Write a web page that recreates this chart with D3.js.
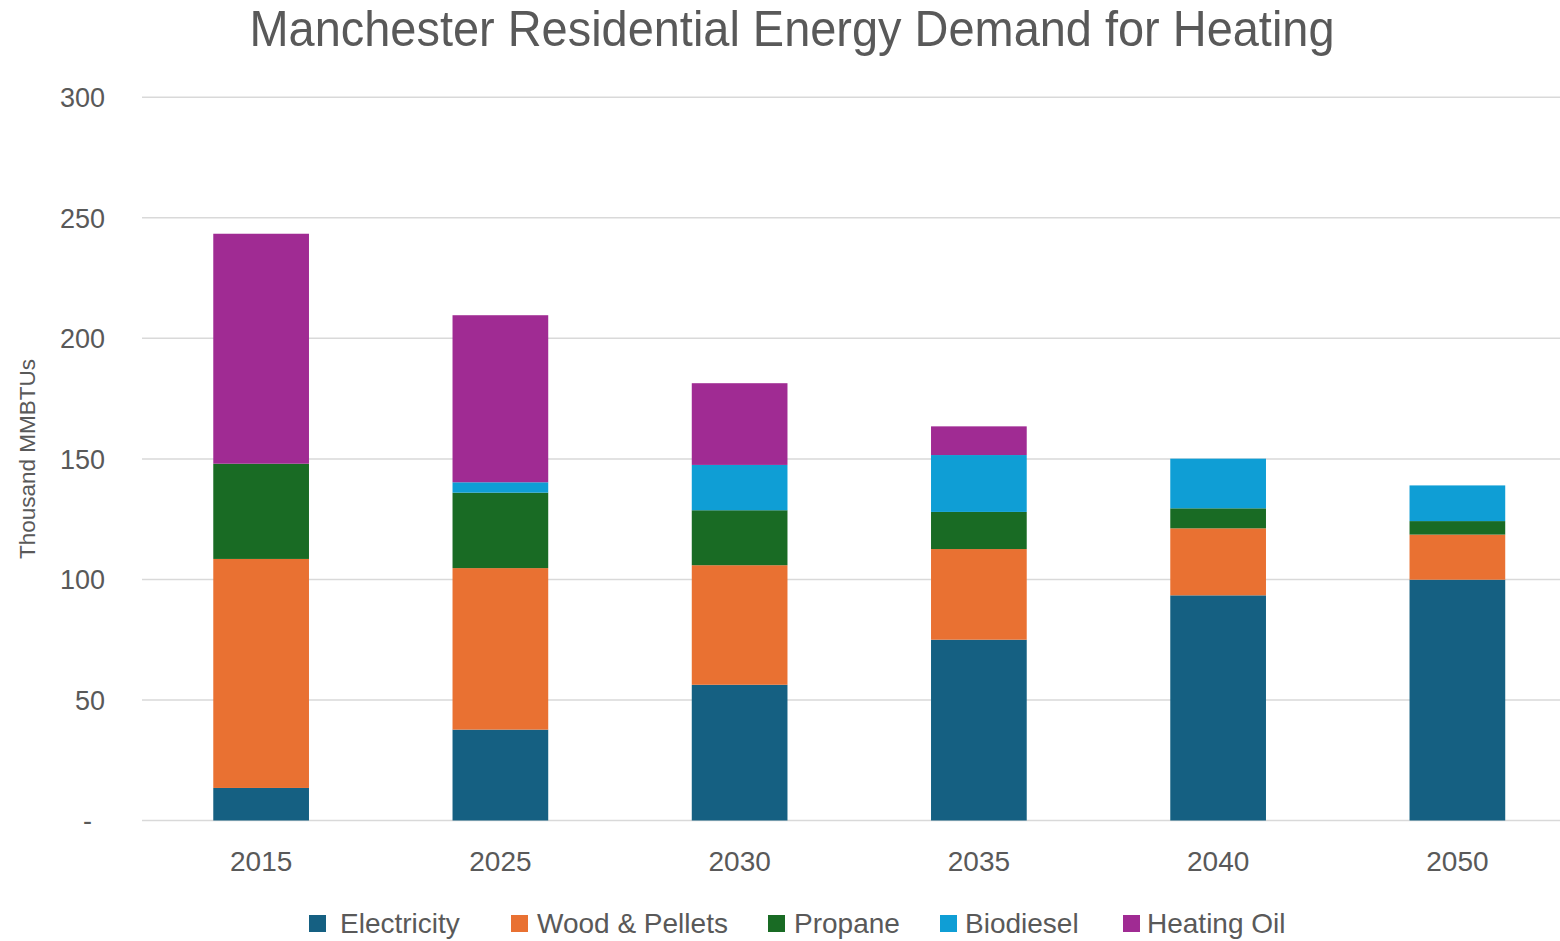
<!DOCTYPE html>
<html><head><meta charset="utf-8">
<script src="https://cdn.jsdelivr.net/npm/d3@7"></script>
<style>html,body{margin:0;padding:0;background:#fff;overflow:hidden}</style>
</head><body>
<svg id="chart" width="1560" height="941"></svg>
<script>
const categories = ["2015","2025","2030","2035","2040","2050"];
const seriesNames = ["Electricity","Wood & Pellets","Propane","Biodiesel","Heating Oil"];
const electricity = [13.5, 37.7, 56.3, 75.0, 93.4, 99.9];
const woodPellets = [95.0, 67.0, 49.6, 37.6, 27.8, 18.7];
const propane     = [39.5, 31.3, 22.8, 15.4, 8.3, 5.6];
const biodiesel   = [0, 4.3, 18.8, 23.6, 20.6, 14.8];
const heatingOil  = [95.4, 69.3, 33.9, 11.9, 0, 0];
const colors = ["#156082","#e97132","#196b24","#0f9ed5","#a02b93"];
const yTicks = [0,50,100,150,200,250,300];
const yTickLabels = ["-","50","100","150","200","250","300"];

const svg = d3.select("#chart");
const fontAxis = "'Liberation Sans', Arial, sans-serif";
const fontNarrow = "'Liberation Sans Narrow', 'Arial Narrow', 'Liberation Sans', sans-serif";
const grey = "#595959";

const rows = categories.map((c,i)=>({cat:c, "Electricity":electricity[i], "Wood & Pellets":woodPellets[i], "Propane":propane[i], "Biodiesel":biodiesel[i], "Heating Oil":heatingOil[i]}));
const stack = d3.stack().keys(seriesNames)(rows);

const x = d3.scaleBand().domain(categories).range([141.5, 1577]).paddingInner(0.6).paddingOuter(0.3);
const y = d3.scaleLinear().domain([0,300]).range([820.5, 97.3]);

// gridlines
svg.append("g").selectAll("line").data(yTicks).join("line")
  .attr("x1",142).attr("x2",1560)
  .attr("y1",d=>y(d)).attr("y2",d=>y(d))
  .attr("stroke","#d9d9d9").attr("stroke-width",1.5);

// y axis labels
const yAxis = d3.axisLeft(y).tickValues(yTicks).tickFormat((d,i)=>yTickLabels[i]).tickSize(0).tickPadding(0);
const yg = svg.append("g").attr("transform","translate(105,0)").call(yAxis);
yg.select(".domain").remove();
yg.selectAll("text").attr("font-family",fontAxis).attr("font-size",27).attr("fill",grey).attr("dy","0.35em");
yg.selectAll("text").filter((d)=>d===0).attr("dx",-13);

// bars
svg.append("g").selectAll("g").data(stack).join("g")
  .attr("fill",(d,i)=>colors[i])
  .selectAll("rect").data(d=>d).join("rect")
  .attr("x",d=>x(d.data.cat))
  .attr("width",x.bandwidth())
  .attr("y",d=>y(d[1]))
  .attr("height",d=>Math.max(0,y(d[0])-y(d[1])));

// x axis labels
const xAxis = d3.axisBottom(x).tickSize(0).tickPadding(0);
const xg = svg.append("g").attr("transform","translate(0,871)").call(xAxis);
xg.select(".domain").remove();
xg.selectAll("text").attr("font-family",fontAxis).attr("font-size",28).attr("fill",grey).attr("dy",0).attr("y",0);

// axis title
svg.append("text").attr("transform","translate(35,459) rotate(-90)")
  .attr("text-anchor","middle").attr("font-family",fontAxis).attr("font-size",22.5).attr("fill",grey)
  .text("Thousand MMBTUs");

// title
svg.append("text").attr("x",792).attr("y",46).attr("text-anchor","middle")
  .attr("font-family",fontNarrow).attr("font-size",50).attr("fill",grey)
  .attr("textLength",1085).attr("lengthAdjust","spacingAndGlyphs")
  .text("Manchester Residential Energy Demand for Heating");

// legend
const legendX = [309, 511, 768, 940, 1123];
const legendTextX = [340, 537, 794, 965, 1147];
const lg = svg.append("g");
seriesNames.forEach((s,i)=>{
  lg.append("rect").attr("x",legendX[i]).attr("y",915).attr("width",17).attr("height",17).attr("fill",colors[i]);
  lg.append("text").attr("x",legendTextX[i]).attr("y",933).attr("font-family",fontNarrow).attr("font-size",28).attr("fill",grey).text(s);
});
</script>
</body></html>
